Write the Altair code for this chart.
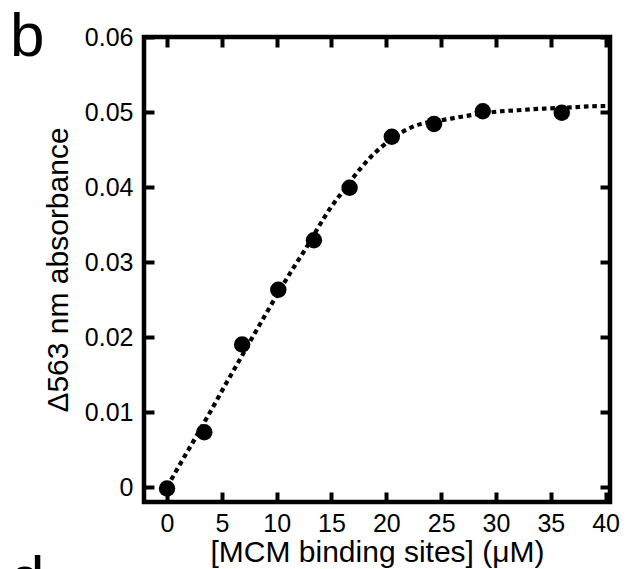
import altair as alt
import pandas as pd

# measured data points
pt_x = [0, 3.4, 6.85, 10.15, 13.4, 16.65, 20.5, 24.35, 28.8, 36.0]
pt_y = [-0.0002, 0.0073, 0.0190, 0.0263, 0.0329, 0.0399, 0.0467, 0.0484, 0.0501, 0.0499]

# fitted curve
fit_x = [0, 0.55, 1.13, 2.13, 3.8, 5.36, 6.43, 8.07, 9.14, 11.39, 12.55, 14.93, 15.69,
         17.76, 18.58, 19.5, 22.24, 25.9, 27.1, 30.77, 31.99, 33.2, 34.4, 37.5, 38.7, 40.0]
fit_y = [0.0000, 0.0014, 0.0029, 0.0054, 0.00965, 0.01373, 0.01645, 0.02067, 0.02339, 0.0289,
         0.03156, 0.03725, 0.03876, 0.04267, 0.0440, 0.04525, 0.04792, 0.04912, 0.04943,
         0.05013, 0.05023, 0.05036, 0.05045, 0.05067, 0.05076, 0.0508]

x_ticks = [0, 5, 10, 15, 20, 25, 30, 35, 40]
y_ticks = [0, 0.01, 0.02, 0.03, 0.04, 0.05, 0.06]

pts = pd.DataFrame({"x": pt_x, "y": pt_y})
fit = pd.DataFrame({"x": fit_x, "y": fit_y})

FONT = "Liberation Sans"
xs = alt.Scale(domain=[-2.1, 40.4], nice=False, zero=False)
ys = alt.Scale(domain=[-0.002, 0.06], nice=False, zero=False)

common = dict(domain=False, grid=False, tickColor="black", tickWidth=4, tickSize=10,
              offset=-10, labelFont=FONT, labelFontSize=25, labelColor="black",
              titleFont=FONT, titleFontSize=30, titleColor="black", titleFontWeight="normal")

bottom_axis = alt.Axis(orient="bottom", values=x_ticks, labelPadding=9, titlePadding=1,
                       title="[MCM binding sites] (\u03bcM)", labelFlush=False, **common)
left_axis = alt.Axis(orient="left", values=y_ticks, labelPadding=11, titlePadding=11,
                     format=".2~f", title="\u0394563 nm absorbance", **common)
top_axis = alt.Axis(orient="top", values=x_ticks, labels=False, title=None, **common)
right_axis = alt.Axis(orient="right", values=y_ticks, labels=False, title=None, **common)

line = alt.Chart(fit).mark_line(
    color="black", strokeWidth=4.2, strokeDash=[4.6, 3.8], strokeCap="butt", interpolate="monotone"
).encode(
    x=alt.X("x:Q", scale=xs, axis=top_axis),
    y=alt.Y("y:Q", scale=ys, axis=right_axis),
)

points = alt.Chart(pts).mark_circle(size=270, color="black", opacity=1).encode(
    x=alt.X("x:Q", scale=xs, axis=bottom_axis),
    y=alt.Y("y:Q", scale=ys, axis=left_axis),
)

lab_b = alt.Chart(pd.DataFrame({"t": ["b"]})).mark_text(
    font=FONT, fontSize=62, align="left", baseline="alphabetic", color="black"
).encode(text="t:N", x=alt.value(-134), y=alt.value(19))

lab_d = alt.Chart(pd.DataFrame({"t": ["d"]})).mark_text(
    font=FONT, fontSize=62, align="left", baseline="alphabetic", color="black"
).encode(text="t:N", x=alt.value(-134), y=alt.value(562))

chart = alt.layer(line, points, lab_b, lab_d).resolve_axis(
    x="independent", y="independent"
).properties(
    width=466, height=465,
    autosize=alt.AutoSizeParams(type="none"),
    padding={"left": 144, "top": 37, "right": 17, "bottom": 67},
    background="white",
).configure_view(stroke="black", strokeWidth=4.5)

chart.save("out.html", embed_options={"renderer": "svg", "actions": False})
